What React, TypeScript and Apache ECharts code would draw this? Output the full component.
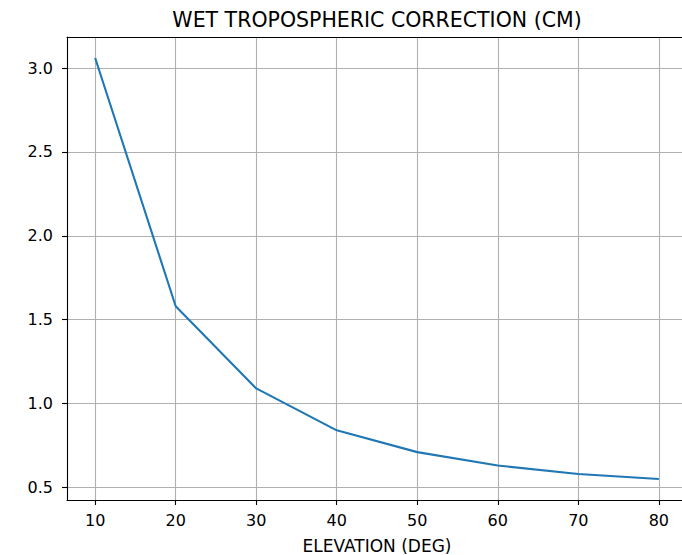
import React, { useEffect, useRef } from "react";
import * as echarts from "echarts";

const elevations = [10, 20, 30, 40, 50, 60, 70, 80];
const corrections = [3.06, 1.58, 1.09, 0.84, 0.71, 0.63, 0.58, 0.55];
const xTicks = [10, 20, 30, 40, 50, 60, 70, 80];
const yTicks = [0.5, 1.0, 1.5, 2.0, 2.5, 3.0];

const TITLE = "WET TROPOSPHERIC CORRECTION (CM)";
const XLABEL = "ELEVATION (DEG)";

export default function App() {
  const ref = useRef<HTMLDivElement>(null);
  useEffect(() => {
    if (!ref.current) return;
    const chart = echarts.init(ref.current, null, { renderer: "svg" });
    const font = "DejaVu Sans";
    const axisLineStyle = { color: "#000", width: 1.1 };
    chart.setOption({
      animation: false,
      backgroundColor: "#fff",
      textStyle: { fontFamily: font, color: "#000" },
      grid: { left: 67, right: 3, top: 37, bottom: 55, containLabel: false, outerBoundsMode: "none" },
      xAxis: [
        {
          type: "value",
          position: "bottom",
          min: 6.5,
          max: 83.5,
          name: XLABEL,
          nameLocation: "middle",
          nameGap: 37,
          nameTextStyle: { fontFamily: font, fontSize: 17, color: "#000" },
          axisLine: { show: true, onZero: false, lineStyle: axisLineStyle },
          axisTick: { show: true, length: 5, customValues: xTicks, lineStyle: { color: "#000", width: 1.1 } },
          axisLabel: {
            customValues: xTicks,
            margin: 12,
            fontFamily: font,
            fontSize: 16,
            color: "#000",
          },
          splitLine: { show: true, lineStyle: { color: "#b0b0b0", width: 1.1 } },
        },
        {
          type: "value",
          position: "top",
          min: 6.5,
          max: 83.5,
          name: TITLE,
          nameLocation: "middle",
          nameGap: 7,
          nameTextStyle: { fontFamily: font, fontSize: 20.5, color: "#000" },
          axisLine: { show: true, onZero: false, lineStyle: axisLineStyle },
          axisTick: { show: false },
          axisLabel: { show: false },
          splitLine: { show: false },
        },
      ],
      yAxis: {
        type: "value",
        min: 0.4245,
        max: 3.1855,
        axisLine: { show: true, onZero: false, lineStyle: axisLineStyle },
        axisTick: { show: true, length: 5, customValues: yTicks, lineStyle: { color: "#000", width: 1.1 } },
        axisLabel: {
          customValues: yTicks,
          margin: 14,
          fontFamily: font,
          fontSize: 16,
          color: "#000",
          formatter: (v: number) => v.toFixed(1),
        },
        splitLine: { show: true, lineStyle: { color: "#b0b0b0", width: 1.1 } },
      },
      series: [
        {
          type: "line",
          xAxisIndex: 0,
          data: elevations.map((x, i) => [x, corrections[i]]),
          symbol: "none",
          lineStyle: { color: "#1f77b4", width: 2.1 },
        },
      ],
    });
    return () => chart.dispose();
  }, []);
  return (
    <div style={{ position: "fixed", left: 0, top: 0, width: 682, height: 555, overflow: "hidden", background: "#fff" }}>
      <div ref={ref} style={{ width: 690, height: 555 }} />
    </div>
  );
}
